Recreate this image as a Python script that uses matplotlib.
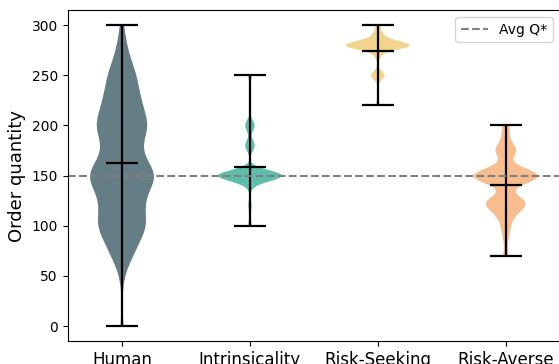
import numpy as np
import matplotlib
matplotlib.use("Agg")
import matplotlib.pyplot as plt

labels = ["Human", "Intrinsicality", "Risk-Seeking", "Risk-Averse"]
colors = ["#657d85", "#5ebdab", "#f2d48e", "#f7bd8f"]
bw = [0.25, 0.2, 0.25, 0.25]
avg_q = 150

# order quantities (value, count)
human_vals = [0, 50, 75, 100, 125, 150, 175, 200, 225, 250, 275, 300]
human_cnts = [1, 1, 7, 14, 11, 20, 9, 15, 10, 8, 3, 1]

intr_vals = [100, 120, 140, 150, 180, 200, 250]
intr_cnts = [1, 1, 1, 20, 3, 3, 1]

seek_vals = [220, 250, 270, 280, 290, 300]
seek_cnts = [1, 3, 1, 14, 2, 1]

averse_vals = [70, 90, 100, 110, 120, 125, 145, 150, 155, 175, 190, 200]
averse_cnts = [1, 1, 1, 2, 4, 4, 3, 9, 2, 4, 1, 1]

data = [np.repeat(human_vals, human_cnts),
        np.repeat(intr_vals, intr_cnts),
        np.repeat(seek_vals, seek_cnts),
        np.repeat(averse_vals, averse_cnts)]

fig = plt.figure(figsize=(5.59, 3.64), dpi=100)
ax = fig.add_axes([0.121, 0.063, 0.881, 0.909])

for i, d in enumerate(data):
    parts = ax.violinplot([d], positions=[i + 1], showmeans=True,
                          showextrema=True, bw_method=bw[i])
    for body in parts["bodies"]:
        body.set_facecolor(colors[i])
        body.set_edgecolor("none")
        body.set_alpha(1)
    for key in ["cbars", "cmins", "cmaxes", "cmeans"]:
        parts[key].set_color("black")
        parts[key].set_linewidth(1.6)

ax.axhline(avg_q, color="gray", linestyle="--", linewidth=1.5, label="Avg Q*")

ax.set_xticks([1, 2, 3, 4])
ax.set_xticklabels(labels, fontsize=12)
ax.set_ylabel("Order quantity", fontsize=13)
ax.tick_params(axis="y", labelsize=10)
ax.legend(loc="upper right", fontsize=10)

fig.savefig("out.png", dpi=100)
